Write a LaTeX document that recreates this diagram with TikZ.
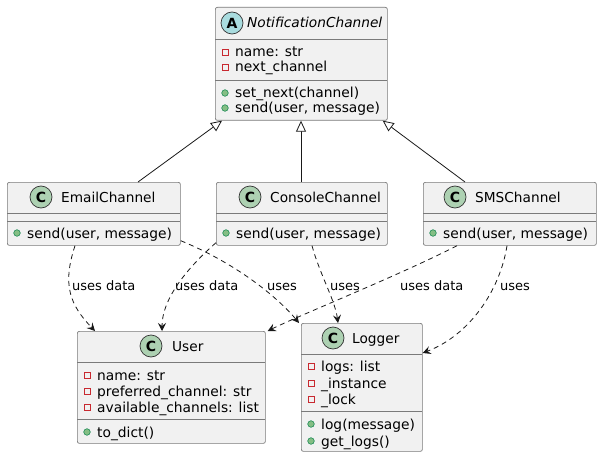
\documentclass[tikz,border=0pt]{standalone}
\usepackage{fontspec}
\setmainfont{DejaVu Sans}
\usetikzlibrary{calc,arrows.meta}
\definecolor{boxfill}{HTML}{F1F1F1}
\definecolor{boxline}{HTML}{7A7A7A}
\definecolor{cgreen}{HTML}{ADD1B2}
\definecolor{ablue}{HTML}{A9DCDF}
\definecolor{privred}{HTML}{C82930}
\definecolor{pubgreen}{HTML}{84BE84}
\definecolor{pubdark}{HTML}{038048}
\tikzset{
  classbox/.style={draw=boxline, fill=boxfill, line width=0.7pt, rounded corners=2pt, inner sep=0pt, anchor=north west},
  sep/.style={draw=boxline, line width=0.7pt},
  member/.style={anchor=base west, inner sep=0pt, font=\fontsize{13.8}{15}\selectfont, text=black},
  cname/.style={anchor=base west, inner sep=0pt, font=\fontsize{13.7}{15}\selectfont, text=black},
  elabel/.style={anchor=base west, inner sep=0pt, font=\fontsize{13}{15}\selectfont, text=black},
  ctype/.style={circle, draw=black!80, line width=0.7pt, minimum size=22pt, inner sep=0pt, font=\fontsize{14}{15}\selectfont\bfseries},
  inh/.style={draw=black!90, line width=0.8pt, -{Triangle[open, fill=white, length=11pt, width=10pt]}},
  dep/.style={draw=black!90, line width=0.8pt, dash pattern=on 5pt off 4pt, -{Stealth[length=8pt, width=8pt, inset=3pt]}},
}
\newcommand{\privicon}[2]{\draw[privred, line width=0.6pt] (#1-3,#2-3) rectangle (#1+3,#2+3);}
\newcommand{\pubicon}[2]{\draw[pubdark, fill=pubgreen, line width=0.5pt] (#1,#2) circle (3.3pt);}
\begin{document}
\begin{tikzpicture}[x=1pt,y=-1pt]
\useasboundingbox (0,0) rectangle (601,457);
\fill[white] (0,0) rectangle (601,457);

% NotificationChannel
\node[classbox, minimum width=172pt, minimum height=113pt] (nc) at (215,7) {};
\draw[sep] (215,39) -- (387,39);
\draw[sep] (215,80) -- (387,80);
\node[ctype, fill=ablue] (ncicon) at (232,23) {A};
\node[cname, font=\fontsize{13.7}{15}\selectfont\itshape] (ncname) at (247,28) {NotificationChannel};
\privicon{225}{52}
\node[member] (ncm1) at (235,57) {name: str};
\privicon{225}{67}
\node[member] (ncm2) at (235,72) {next\_channel};
\pubicon{225}{93}
\node[member] (ncm3) at (235,98) {set\_next(channel)};
\pubicon{225}{108}
\node[member] (ncm4) at (235,113) {send(user, message)};

% EmailChannel
\node[classbox, minimum width=173pt, minimum height=63pt] (email) at (7,182) {};
\draw[sep] (7,213) -- (180,213);
\draw[sep] (7,221) -- (180,221);
\node[ctype, fill=cgreen] (emailicon) at (41,197) {C};
\node[cname] (emailname) at (61,202) {EmailChannel};
\pubicon{17}{233}
\node[member] (emailm1) at (27,238) {send(user, message)};

% ConsoleChannel
\node[classbox, minimum width=171pt, minimum height=63pt] (console) at (216,182) {};
\draw[sep] (216,213) -- (387,213);
\draw[sep] (216,221) -- (387,221);
\node[ctype, fill=cgreen] (consoleicon) at (250,197) {C};
\node[cname] (consolename) at (270,202) {ConsoleChannel};
\pubicon{226}{233}
\node[member] (consolem1) at (236,238) {send(user, message)};

% SMSChannel
\node[classbox, minimum width=173pt, minimum height=63pt] (sms) at (423,182) {};
\draw[sep] (423,213) -- (596,213);
\draw[sep] (423,221) -- (596,221);
\node[ctype, fill=cgreen] (smsicon) at (455,197) {C};
\node[cname] (smsname) at (475,202) {SMSChannel};
\pubicon{433}{233}
\node[member] (smsm1) at (443,238) {send(user, message)};

% User
\node[classbox, minimum width=188pt, minimum height=112pt] (user) at (77,331) {};
\draw[sep] (77,362) -- (265,362);
\draw[sep] (77,419) -- (265,419);
\node[ctype, fill=cgreen] (usericon) at (151,346) {C};
\node[cname] (username) at (172,351) {User};
\privicon{87}{375}
\node[member] (userm1) at (97,380) {name: str};
\privicon{87}{391}
\node[member] (userm2) at (97,396) {preferred\_channel: str};
\privicon{87}{407}
\node[member] (userm3) at (97,412) {available\_channels: list};
\pubicon{87}{432}
\node[member] (userm4) at (97,437) {to\_dict()};

% Logger
\node[classbox, minimum width=121pt, minimum height=128pt] (logger) at (301,323) {};
\draw[sep] (301,354) -- (422,354);
\draw[sep] (301,411) -- (422,411);
\node[ctype, fill=cgreen] (loggericon) at (333,338) {C};
\node[cname] (loggername) at (352,343) {Logger};
\privicon{311}{366}
\node[member] (loggerm1) at (321,371) {logs: list};
\privicon{311}{383}
\node[member] (loggerm2) at (321,388) {\_instance};
\privicon{311}{399}
\node[member] (loggerm3) at (321,404) {\_lock};
\pubicon{311}{424}
\node[member] (loggerm4) at (321,429) {log(message)};
\pubicon{311}{441}
\node[member] (loggerm5) at (321,446) {get\_logs()};

% inheritance
\draw[inh] ($(email.north west)+(131,0)$) -- ($(nc.south west)+(7,0)$);
\draw[inh] ($(console.north west)+(85,0)$) -- ($(nc.south west)+(86,0)$);
\draw[inh] ($(sms.north west)+(42,0)$) -- ($(nc.south east)+(-5,0)$);

% dependencies
\draw[dep] ($(email.south west)+(68,0)$) .. controls (62,285) and (70,305) .. ($(user.north west)+(18,0)$);
\node[elabel] (l1) at (72,290) {uses data};
\draw[dep] ($(console.south west)+(0,-3)$) .. controls (185,270) and (162,300) .. ($(user.north west)+(85,0)$);
\node[elabel] (l2) at (175,290) {uses data};
\draw[dep] ($(email.south east)+(0,-5)$) .. controls (240,265) and (280,300) .. ($(logger.north west)+(-2,0)$);
\node[elabel] (l3) at (267,290) {uses};
\draw[dep] ($(console.south west)+(96,0)$) .. controls (320,275) and (335,300) .. ($(logger.north west)+(37,0)$);
\node[elabel] (l4) at (330,290) {uses};
\draw[dep] ($(sms.south west)+(34,0)$) .. controls (400,275) and (300,315) .. ($(user.north east)+(2,0)$);
\node[elabel] (l5) at (400,290) {uses data};
\draw[dep] ($(sms.south west)+(84,0)$) .. controls (500,290) and (470,335) .. ($(logger.north east)+(0,30)$);
\node[elabel] (l6) at (500,290) {uses};
\end{tikzpicture}
\end{document}
